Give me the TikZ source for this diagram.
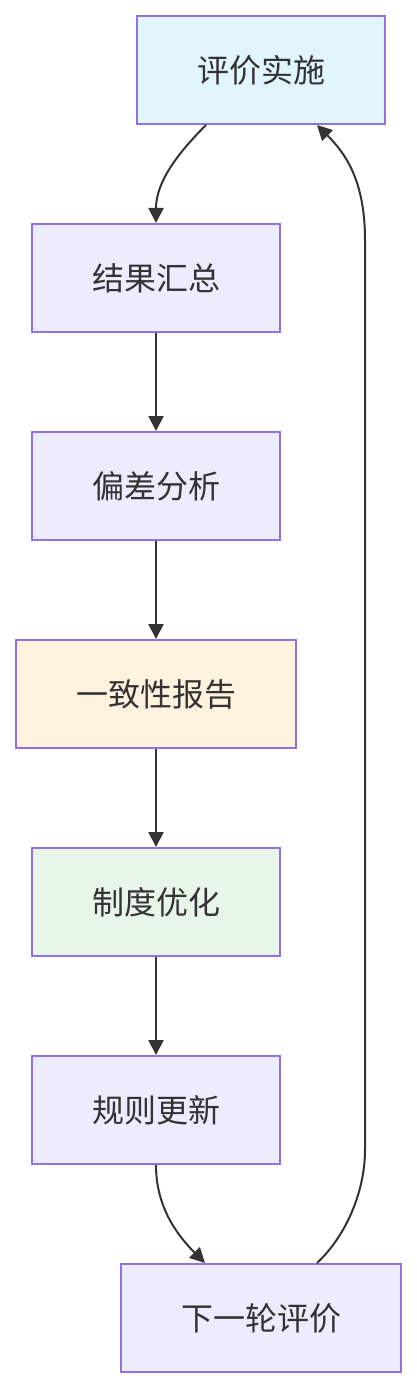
\documentclass[tikz,border=0pt]{standalone}
\usepackage{fontspec}
\setmainfont{Noto Sans CJK SC}
\usetikzlibrary{arrows.meta}
\definecolor{strokec}{HTML}{9370DB}
\definecolor{fillblue}{HTML}{E1F5FE}
\definecolor{filldef}{HTML}{ECECFF}
\definecolor{fillorange}{HTML}{FFF3E0}
\definecolor{fillgreen}{HTML}{E8F5E9}
\definecolor{linec}{HTML}{333333}
\tikzset{
  box/.style={draw=strokec, line width=2pt, fill=filldef, minimum height=108pt, inner sep=0pt,
    text=linec, font=\fontsize{32pt}{37pt}\selectfont},
  conn/.style={draw=linec, line width=2pt, -{Triangle[length=15pt,width=15pt]}}
}
\begin{document}
\begin{tikzpicture}[x=1pt,y=-1pt]
\useasboundingbox (0,0) rectangle (417,1388);
\node[box, fill=fillblue, minimum width=248pt] (a) at (261,70) {评价实施};
\node[box, minimum width=248pt] (b) at (156,278) {结果汇总};
\node[box, minimum width=248pt] (c) at (156,486) {偏差分析};
\node[box, fill=fillorange, minimum width=280pt] (d) at (156,694) {一致性报告};
\node[box, fill=fillgreen, minimum width=248pt] (e) at (156,902) {制度优化};
\node[box, minimum width=248pt] (f) at (156,1110) {规则更新};
\node[box, minimum width=280pt] (g) at (261,1318) {下一轮评价};
\draw[conn] ([xshift=-55pt]a.south) .. controls +(-30,30) and +(0,-40) .. (b.north);
\draw[conn] (b) -- (c);
\draw[conn] (c) -- (d);
\draw[conn] (d) -- (e);
\draw[conn] (e) -- (f);
\draw[conn] (f.south) .. controls +(0,40) and +(-30,-30) .. ([xshift=-56pt]g.north);
\coordinate (r1) at (365,1150);
\coordinate (r2) at (365,240);
\draw[conn] ([xshift=56pt]g.north) .. controls +(30,-28) and +(0,40) .. (r1) -- (r2) .. controls +(0,-60) and +(28,28) .. ([xshift=56pt]a.south);
\end{tikzpicture}
\end{document}
